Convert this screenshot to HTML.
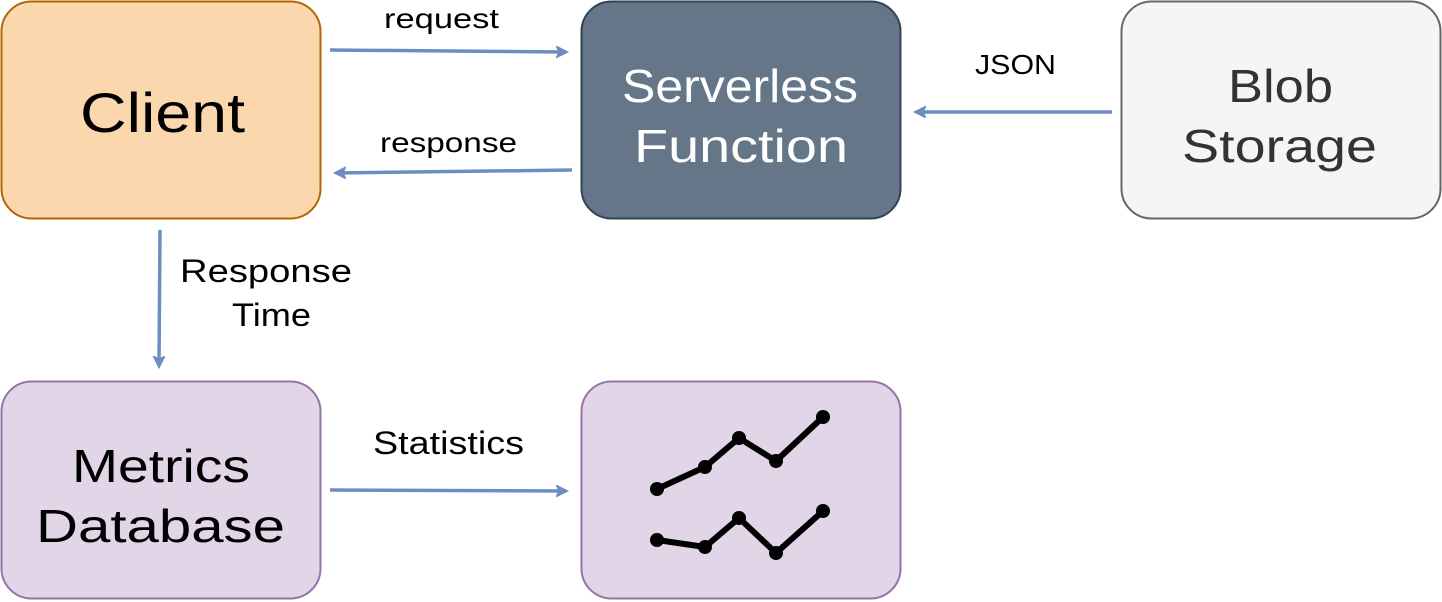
<!DOCTYPE html>
<html><head><meta charset="utf-8"><style>
html,body{margin:0;padding:0;background:#fff;}
svg{display:block;}
text{font-family:"Liberation Sans",sans-serif;}
</style></head><body>
<svg width="1442" height="602" viewBox="0 0 1442 602" xmlns="http://www.w3.org/2000/svg">
<defs>
<marker id="a" markerWidth="14" markerHeight="14" refX="10" refY="6" orient="auto" markerUnits="userSpaceOnUse">
<path d="M0,0 L12,6 L0,12 L3,6 Z" fill="#6c8ebf" stroke="#6c8ebf" stroke-width="1"/>
</marker>
</defs>
<rect x="1.5" y="1.5" width="319" height="217" rx="30" fill="#fad7ac" stroke="#b46504" stroke-width="2"/>
<rect x="581.5" y="1.5" width="319" height="217" rx="30" fill="#647687" stroke="#314354" stroke-width="2"/>
<rect x="1121.5" y="1.5" width="319" height="217" rx="30" fill="#f5f5f5" stroke="#666666" stroke-width="2"/>
<rect x="1.5" y="381.5" width="319" height="217" rx="30" fill="#e1d5e7" stroke="#9673a6" stroke-width="2"/>
<rect x="581.5" y="381.5" width="319" height="217" rx="30" fill="#e1d5e7" stroke="#9673a6" stroke-width="2"/>

<text x="80" y="132" font-size="56" textLength="165" lengthAdjust="spacingAndGlyphs" fill="#000">Client</text>
<text x="622" y="102" font-size="46" textLength="236" lengthAdjust="spacingAndGlyphs" fill="#fff">Serverless</text>
<text x="634" y="162" font-size="46" textLength="214" lengthAdjust="spacingAndGlyphs" fill="#fff">Function</text>
<text x="1228" y="102" font-size="46" textLength="105" lengthAdjust="spacingAndGlyphs" fill="#333">Blob</text>
<text x="1182" y="162" font-size="46" textLength="195" lengthAdjust="spacingAndGlyphs" fill="#333">Storage</text>
<text x="72" y="482" font-size="46" textLength="178" lengthAdjust="spacingAndGlyphs" fill="#000">Metrics</text>
<text x="36" y="542" font-size="46" textLength="249" lengthAdjust="spacingAndGlyphs" fill="#000">Database</text>

<g stroke="#000" stroke-width="6" fill="none" stroke-linejoin="round">
<polyline points="657,489 705,467 739,438 776,461 823,417"/>
<polyline points="657,540 705,547 739,518 776,553 823,511"/>
</g>
<g fill="#000">
<circle cx="657" cy="489" r="7"/><circle cx="705" cy="467" r="7"/><circle cx="739" cy="438" r="7"/><circle cx="776" cy="461" r="7"/><circle cx="823" cy="417" r="7"/>
<circle cx="657" cy="540" r="7"/><circle cx="705" cy="547" r="7"/><circle cx="739" cy="518" r="7"/><circle cx="776" cy="553" r="7"/><circle cx="823" cy="511" r="7"/>
</g>

<g stroke="#6c8ebf" stroke-width="3.5" fill="none">
<path d="M330,50 L566,52" marker-end="url(#a)"/>
<path d="M572,170 L336,173" marker-end="url(#a)"/>
<path d="M1112,112 L916,112" marker-end="url(#a)"/>
<path d="M160,230 L159,366" marker-end="url(#a)"/>
<path d="M330,490 L566,491" marker-end="url(#a)"/>
</g>

<text x="384" y="28" font-size="28" textLength="115" lengthAdjust="spacingAndGlyphs" fill="#000">request</text>
<text x="380" y="152" font-size="28" textLength="137" lengthAdjust="spacingAndGlyphs" fill="#000">response</text>
<text x="975" y="74" font-size="28" textLength="81" lengthAdjust="spacingAndGlyphs" fill="#000">JSON</text>
<text x="180" y="282" font-size="32" textLength="172" lengthAdjust="spacingAndGlyphs" fill="#000">Response</text>
<text x="232" y="326" font-size="32" textLength="79" lengthAdjust="spacingAndGlyphs" fill="#000">Time</text>
<text x="373" y="454" font-size="32" textLength="151" lengthAdjust="spacingAndGlyphs" fill="#000">Statistics</text>
</svg>
</body></html>
